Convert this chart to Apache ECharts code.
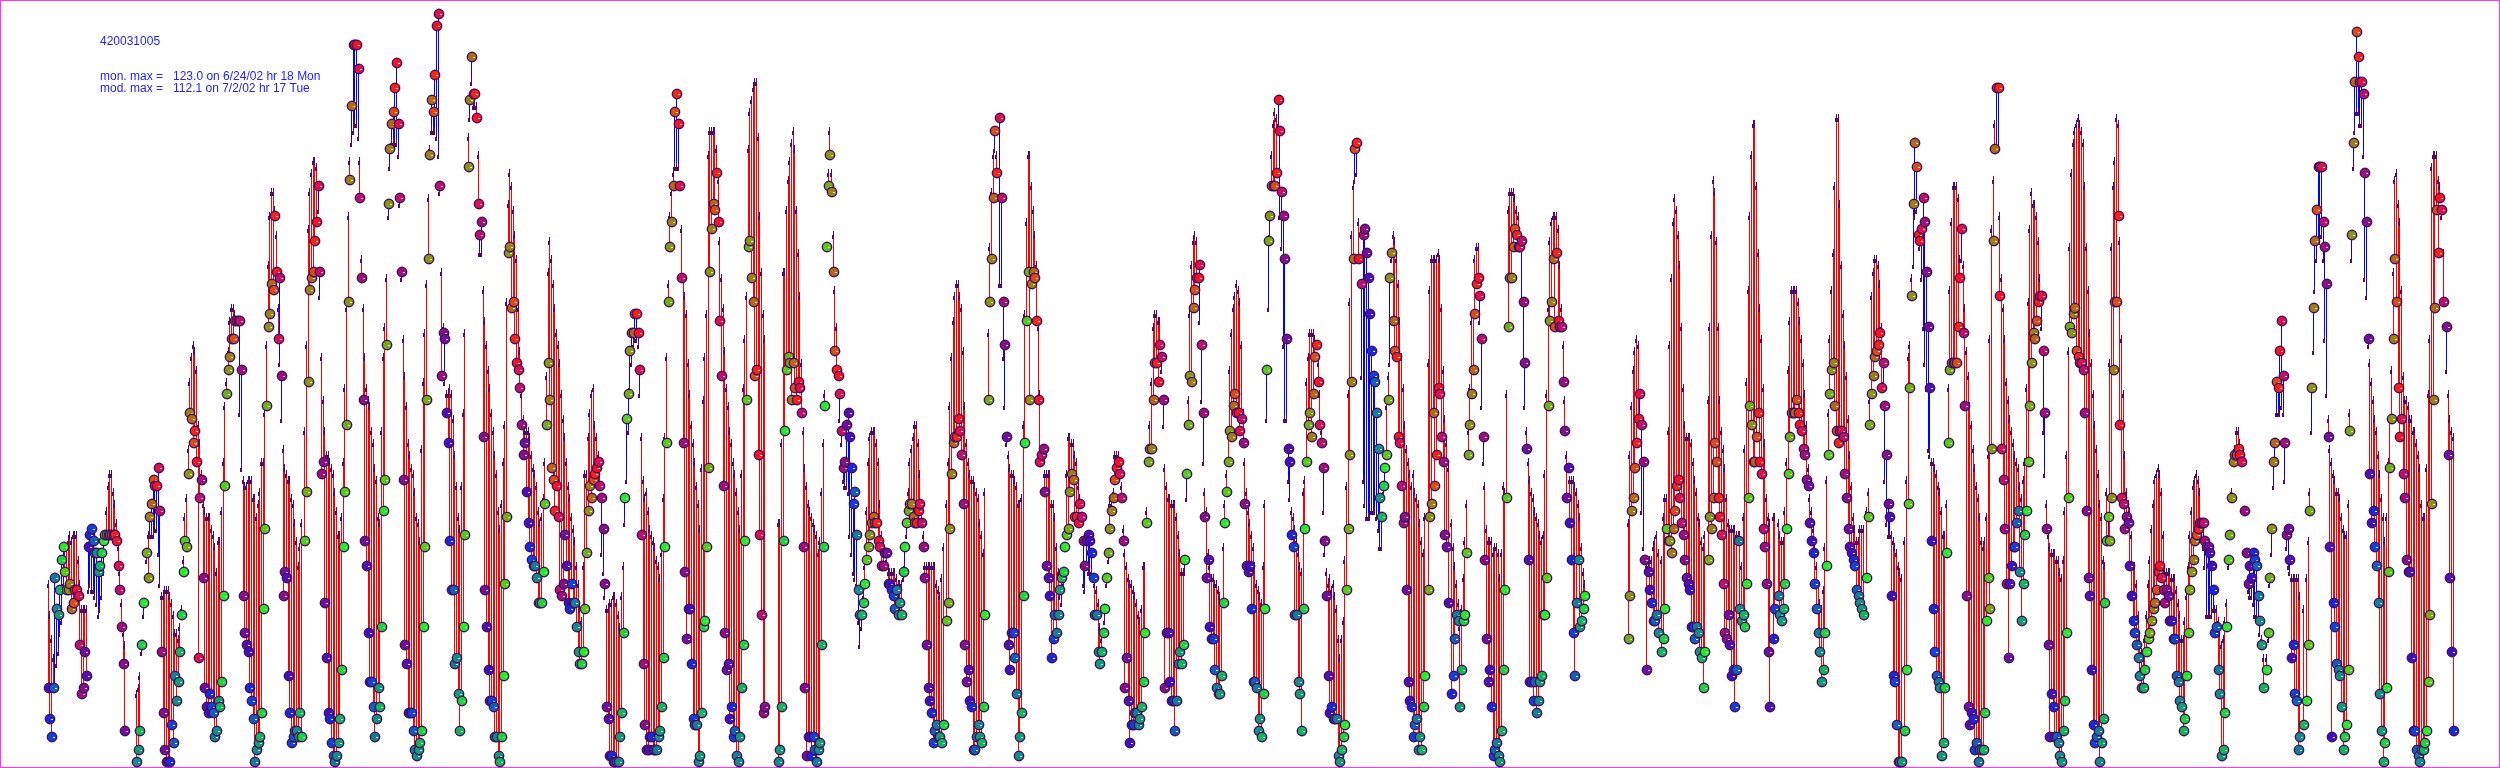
<!DOCTYPE html>
<html>
<head>
<meta charset="utf-8">
<title>420031005</title>
<script src="https://cdn.jsdelivr.net/npm/echarts@6/dist/echarts.min.js"></script>
<style>
html, body { margin: 0; padding: 0; background: #fff; }
#main { width: 2500px; height: 768px; }
</style>
</head>
<body>
<div id="main"></div>
<script>
var _ = null;

// station id and the two max lines
var titleLines = ['420031005', 'mon. max =   123.0 on 6/24/02 hr 18 Mon', 'mod. max =   112.1 on 7/2/02 hr 17 Tue'];

// one colour per hour of day for the monitor dots
var hourColors = ['#3c10c8', '#1828e0', '#1040e0', '#1060c0', '#108098', '#109088', '#10a070', '#10b858',
                  '#18d838', '#20f020', '#50d010', '#70b010', '#889810', '#a08010', '#b86810', '#e04c10',
                  '#ff2010', '#ff1020', '#e01048', '#c01068', '#a01078', '#881088', '#7010a0', '#5010b8'];

// monitor values, ppb, one row per day starting 6/15/02 hr 0
var monByDay = [
[13,8,5,13,31,26,25,29,34,36,32,29,29,30,26,27,29,29,28,20,12,13,19,15],
[36,38,39,37,35,35,32,33,35,37,38,38,38,38,38,38,38,37,33,29,23,17,6,_],
[_,_,_,_,_,1,3,6,20,27,_,35,31,41,43,47,46,46,49,42,19,9,3,1],
[1,1,7,4,15,11,14,19,25,32,37,36,48,58,57,53,55,50,18,44,47,31,13,10],
[9,12,10,9,5,6,11,10,14,28,46,61,65,67,70,70,73,73,73,73,65,28,22,20],
[19,13,11,8,1,3,4,5,9,26,39,59,72,74,79,78,90,81,70,80,64,28,32,31],
[15,9,4,5,6,6,5,9,5,_,37,45,63,78,80,81,86,89,95,81,48,50,27,18],
[9,8,4,2,1,2,4,8,16,36,45,56,76,96,108,118,118,118,114,93,80,60,37,33],
[22,14,14,10,5,8,13,10,23,42,47,69,92,101,105,107,111,115,105,93,81,47,20,17],
[9,9,9,6,3,2,3,4,6,23,36,60,83,100,109,107,113,121,123,95,64,71,70,58],
[53,37,29,29,17,18,12,6,11,23,38,_,98,109,116,110,110,106,92,87,89,54,29,23],
[16,11,11,10,5,5,2,1,5,15,30,41,84,85,75,76,70,66,65,62,56,51,53,45],
[40,36,34,33,33,31,27,27,27,32,43,56,66,60,49,47,42,46,41,29,28,30,38,33],
[27,26,30,27,27,23,19,17,17,19,26,35,42,46,44,47,48,49,50,46,44,39,30,10],
[8,2,2,1,1,1,1,5,9,22,44,57,61,68,71,71,74,74,71,65,38,17,7,3],
[3,5,5,3,3,3,5,6,10,18,36,53,76,85,89,95,107,110,105,95,80,53,32,21],
[26,26,17,8,7,7,1,2,9,23,24,36,49,81,88,92,91,97,89,73,64,46,22,16],
[17,8,10,5,6,2,1,5,13,20,37,60,85,86,80,76,64,65,51,38,25,9,10,_],
[_,_,_,_,_,_,1,3,10,37,55,65,67,66,60,66,62,60,63,62,58,36,13,2],
[5,5,2,5,3,1,3,4,20,36,59,85,95,100,94,81,68,65,64,61,55,49,50,56],
[58,54,49,43,45,38,29,25,25,27,30,34,36,38,40,41,40,40,37,36,33,33,35,35],
[30,30,29,28,26,29,25,27,25,32,36,40,42,43,43,41,40,40,42,43,40,36,31,20],
[13,11,9,4,6,7,5,5,4,7,_,24,27,39,48,53,54,54,57,55,51,43,20,14],
[16,11,10,3,3,5,7,5,4,10,25,_,60,76,83,93,104,97,_,106,93,76,69,54],
[20,16,22,22,18,12,2,5,9,28,53,73,81,60,79,81,80,73,60,50,51,52,45,33],
[31,28,18,21,25,22,25,29,31,32,36,38,39,45,48,47,41,41,40,43,41,37,33,37],
[38,37,35,31,25,25,19,17,19,22,26,31,35,39,42,44,47,49,50,48,44,37,13,18],
[11,4,7,7,9,9,7,8,10,14,22,40,50,52,52,60,66,66,63,69,67,60,13,22],
[22,14,11,11,6,11,17,19,17,20,34,48,56,64,63,75,78,80,80,82,69,58,41,31],
[34,23,21,21,16,13,12,12,15,27,40,45,50,55,54,59,61,58,58,55,57,53,43,33],
[32,33,26,14,14,13,6,8,5,12,26,65,86,90,95,95,95,97,109,104,94,90,83,70],
[52,50,38,36,25,25,14,12,6,26,39,50,56,58,54,61,67,69,63,56,53,49,37,28],
[15,9,10,8,8,8,2,1,3,5,7,29,39,51,63,83,101,102,83,_,79,87,88,84],
[80,74,68,64,63,58,52,44,41,46,49,51,60,80,84,73,68,67,54,53,46,40,41,29],
[14,11,10,5,7,8,3,5,3,10,15,_,29,41,43,58,46,51,62,61,54,50,38,36],
[27,_,12,15,21,25,24,10,16,24,25,35,51,56,61,65,74,79,80,77,70,54,34,21],
[14,16,10,2,3,4,2,1,6,16,29,44,72,80,80,85,88,87,85,85,86,76,66,52],
[34,14,14,11,14,9,11,14,15,25,25,31,59,73,76,83,72,84,73,72,72,63,55,44],
[49,40,34,22,15,27,34,23,24,26,28,_,_,_,_,_,_,_,_,_,_,_,_,_],
[_,_,_,_,_,_,_,_,_,_,_,_,21,28,42,44,49,53,57,61,56,50,34,16],
[32,29,27,24,24,25,22,_,19,21,26,39,37,37,35,39,42,46,47,44,40,38,34,31],
[30,29,23,23,21,23,22,19,18,13,19,_,34,41,39,44,53,50,44,41,38,30,22,21],
[25,20,15,16,10,16,37,26,24,25,23,30,44,59,56,50,50,54,58,50,48,39,36,30],
[19,10,_,21,26,_,28,25,24,26,30,39,48,54,58,58,58,60,58,56,55,52,51,47],
[46,40,37,35,30,26,22,19,14,16,22,33,51,61,65,66,59,55,53,55,55,54,48,44],
[39,36,35,34,33,29,28,27,26,25,_,31,41,56,61,64,67,68,69,71,62,66,59,51],
[43,41,28,15,14,7,1,1,1,_,6,16,43,62,77,92,102,98,87,86,88,93,89,81],
[72,62,37,26,19,15,14,13,2,4,13,35,53,65,66,66,66,66,72,80,88,71,59,28],
[10,7,9,8,3,4,1,3,3,3,9,24,31,26,52,86,101,111,111,77,52,47,39,30],
[18,30,33,36,36,40,42,32,24,30,38,42,50,59,66,71,70,73,76,77,77,68,58,39],
[20,5,12,10,5,5,4,2,1,6,11,22,44,72,71,74,75,68,67,66,66,65,58,42],
[31,28,16,7,4,5,6,1,4,8,27,37,41,37,44,65,76,76,90,56,44,43,39,41],
[40,33,28,24,22,20,18,15,13,13,16,19,21,22,24,26,27,29,32,33,31,29,27,29],
[28,24,24,21,21,15,14,11,10,6,8,15,22,29,32,34,37,38,39,40,40,40,37,36],
[36,35,33,29,22,23,16,12,2,3,9,23,34,38,44,50,51,51,52,51,50,_,42,35],
[30,33,31,35,34,33,28,24,20,13,_,16,22,31,39,50,53,63,62,68,73,64,53,38],
[39,34,18,20,12,11,3,5,_,7,_,11,20,42,62,75,86,91,98,98,98,89,85,79],
[54,36,5,27,23,17,16,15,10,3,5,7,16,55,87,102,112,120,116,112,112,110,97,89],
[70,48,40,42,36,33,27,12,6,1,4,13,32,49,57,70,83,76,62,54,57,48,44,34],
[32,32,18,6,6,3,2,1,3,3,4,6,14,25,43,60,75,91,84,93,91,76,_,72],
[51,31,19,6]
];

// model values, same layout
var modByDay = [
[30,25,21,18,13,17,19,22,24,30,35,36,37,38,37,38,38,38,34,30,26,26,26,26],
[29,30,29,29,28,27,25,26,28,32,38,42,46,48,48,45,43,40,36,32,27,22,20,_],
[_,_,_,_,_,12,13,15,19,25,_,34,38,38,38,38,39,39,35,30,28,28,29,29],
[29,28,27,25,22,22,21,23,26,34,41,44,52,63,67,69,68,65,56,53,48,43,42,41],
[41,41,39,38,36,32,37,37,42,50,59,63,68,73,75,75,74,73,73,58,49,47,46,46],
[47,47,47,44,44,41,43,45,50,50,58,69,82,90,94,94,91,87,75,66,57,52,49,48],
[47,47,44,43,40,37,33,36,40,_,55,69,88,94,97,99,99,98,91,77,67,60,55,51],
[51,50,49,48,45,42,38,38,41,50,62,75,90,99,102,104,105,105,103,99,83,75,67,62],
[60,59,55,53,49,47,41,40,55,67,72,80,90,98,102,102,102,102,100,92,80,70,64,59],
[53,51,49,48,45,41,40,37,52,63,71,79,93,101,104,104,104,103,100,94,81,72,63,61],
[61,62,61,57,51,46,41,39,46,58,71,_,103,106,112,108,108,108,100,84,84,78,73,69],
[65,62,58,55,51,48,42,39,43,50,56,76,92,97,95,91,87,83,75,68,61,57,55,55],
[55,54,51,49,48,46,42,40,41,44,50,64,81,86,83,79,75,71,69,66,61,57,54,50],
[46,44,41,39,37,33,30,26,24,33,48,48,54,58,61,62,56,54,51,48,35,32,28,26],
[26,27,27,28,28,27,25,23,28,33,40,47,55,62,66,69,70,70,69,61,54,47,44,45],
[42,39,38,37,36,34,33,31,35,44,54,67,79,90,94,97,98,98,98,95,88,80,77,74],
[66,61,56,53,50,46,43,39,49,60,67,74,100,104,104,104,104,101,96,86,80,75,68,62],
[59,55,53,50,48,45,42,39,48,62,70,77,101,107,109,111,112,112,103,90,81,74,70,_],
[_,_,_,_,_,_,40,40,53,81,81,91,96,99,102,104,101,91,84,77,66,55,49,46],
[43,42,41,40,39,38,35,37,45,53,61,85,97,104,97,87,78,72,65,57,53,47,46,46],
[45,38,35,32,31,30,24,20,23,28,33,42,50,54,55,55,55,53,50,43,38,36,35,34],
[32,32,32,32,32,31,30,30,30,31,33,38,45,50,52,54,56,56,53,48,42,38,33,33],
[33,33,33,33,33,30,29,28,31,36,_,43,50,59,67,73,77,79,79,77,75,68,59,53],
[50,48,47,47,46,45,44,40,38,35,45,_,71,85,94,100,101,100,_,79,79,67,59,53],
[51,49,48,48,47,46,43,43,44,56,74,89,100,100,95,91,87,82,72,61,52,52,48,48],
[48,48,43,43,41,36,32,28,27,30,36,48,54,54,53,53,51,50,46,44,40,30,29,33],
[32,32,32,31,30,29,27,23,21,22,24,30,34,43,43,45,51,51,51,50,46,39,35,33],
[31,30,30,29,28,27,25,24,26,33,33,42,50,56,63,72,74,74,73,73,65,56,49,46],
[44,44,43,43,43,41,38,35,32,32,32,44,60,74,82,86,87,86,80,73,60,50,45,42],
[35,33,31,31,30,30,29,28,27,36,43,48,55,65,71,75,77,79,78,76,69,58,50,45],
[42,40,38,36,33,30,29,28,27,33,43,57,75,87,100,105,107,106,105,90,85,69,57,57],
[47,44,42,41,39,37,35,33,32,45,47,63,67,71,71,71,70,69,66,61,55,42,35,32],
[30,31,29,30,28,26,21,18,21,24,34,46,61,76,87,95,96,97,89,_,64,47,43,41],
[41,41,42,42,42,41,39,36,36,45,46,59,64,66,83,87,86,83,79,73,67,62,56,52],
[50,48,46,48,45,44,43,40,37,35,41,_,66,78,83,83,83,83,84,83,75,65,57,53],
[49,_,40,36,33,30,27,23,26,31,37,43,55,62,73,74,83,85,85,73,59,50,46,39],
[37,37,37,35,36,36,35,31,35,46,45,61,91,94,94,94,93,91,90,85,76,66,59,55],
[50,47,45,44,42,41,40,38,37,38,48,61,75,86,89,90,90,90,88,82,75,69,60,51],
[49,47,47,47,46,45,43,41,36,32,30,_,_,_,_,_,_,_,_,_,_,_,_,_],
[_,_,_,_,_,_,_,_,_,_,_,_,40,51,59,65,68,70,69,57,42,36,34,33],
[33,34,34,36,37,38,35,_,34,41,44,44,55,69,80,89,93,91,87,82,72,62,56,54],
[54,54,53,50,47,45,41,40,37,36,38,_,60,72,87,96,94,86,72,60,55,52,49,44],
[40,39,39,39,39,38,38,38,33,41,52,63,78,90,100,105,105,95,84,75,70,62,53,44],
[41,40,_,41,41,_,40,38,37,37,42,50,65,73,78,78,78,78,76,73,70,66,61,56],
[49,44,42,39,36,33,30,27,26,29,36,47,58,70,78,84,95,106,106,92,82,74,69,64],
[57,51,46,41,39,37,37,39,39,39,_,42,45,60,77,81,83,83,82,79,72,63,47,40],
[38,38,38,37,36,35,33,32,31,_,37,47,67,69,80,82,90,91,88,85,80,72,66,62],
[52,51,50,50,49,48,46,45,42,38,38,43,62,78,89,95,95,95,93,83,83,82,75,68],
[64,59,56,52,49,46,44,41,37,36,37,41,51,70,88,96,105,101,101,90,80,75,70,63],
[60,57,55,53,51,50,49,46,44,47,50,62,76,88,94,92,92,90,86,80,72,55,48,43],
[38,36,35,35,35,34,34,32,31,34,42,51,68,85,97,102,104,105,106,105,104,102,95,85],
[78,71,66,61,56,52,48,43,41,34,33,45,38,66,85,95,99,106,105,86,70,61,51,45],
[43,42,38,33,33,30,25,21,19,18,21,25,30,34,39,43,47,48,49,48,45,38,32,32],
[32,32,31,31,31,29,27,25,21,21,24,28,33,38,42,46,47,48,47,45,40,36,33,25],
[25,25,25,26,26,26,24,22,20,21,24,27,33,38,45,50,52,55,55,53,52,_,42,35],
[29,28,28,27,25,25,24,22,21,18,_,18,21,30,35,46,50,58,58,58,59,58,47,36],
[33,32,31,31,31,31,31,28,_,26,_,31,37,45,55,68,78,83,86,86,87,83,70,61],
[57,52,50,48,47,45,45,44,41,39,38,38,43,58,83,98,104,107,107,105,105,100,80,77],
[69,66,63,60,57,55,51,48,44,41,37,41,50,57,65,81,96,97,92,89,78,64,60,60],
[59,57,57,55,55,53,51,49,43,41,41,49,61,70,98,100,100,100,96,95,90,84,_,65],
[61,57,55,54]
];

// 组装数据: [plot column, monitor, model, hour of day]
var points = [];
for (var d = 0; d < monByDay.length; d++) {
  for (var i = 0; i < monByDay[d].length; i++) {
    if (monByDay[d][i] == null || modByDay[d][i] == null) continue;
    var col = d * 24 + i;
    // the plot columns run a little slower than real hours
    points.push([col, monByDay[d][i], modByDay[d][i], Math.round(col * 0.9985) % 24]);
  }
}

function renderLine(params, api) {
  var mon = api.coord([api.value(0), api.value(1)]);
  var mod = api.coord([api.value(0), api.value(2)]);
  var x = Math.round(mon[0]) + 0.5;
  return {
    type: 'line',
    shape: { x1: x, y1: Math.round(mon[1]), x2: x, y2: Math.round(mod[1]) },
    style: { stroke: api.value(2) >= api.value(1) ? '#ff0000' : '#0000ff', lineWidth: 1 }
  };
}

function renderTick(params, api) {
  var mod = api.coord([api.value(0), api.value(2)]);
  var x = Math.round(mod[0]);
  var y = Math.round(mod[1]);
  return {
    type: 'group',
    children: [
      { type: 'rect', shape: { x: x, y: y - 4, width: 1, height: 8 }, style: { fill: '#500a6a' } },
      { type: 'rect', shape: { x: x - 1, y: y, width: 1, height: 4 }, style: { fill: '#500a6a' } }
    ]
  };
}

function renderDot(params, api) {
  var mon = api.coord([api.value(0), api.value(1)]);
  var x = Math.round(mon[0]) + 1;
  var y = Math.round(mon[1]);
  return {
    type: 'group',
    children: [
      { type: 'circle', shape: { cx: x, cy: y, r: 4.7 },
        style: { fill: hourColors[api.value(3)], stroke: '#401060', lineWidth: 1.4 } },
      { type: 'rect', shape: { x: x + 1, y: y, width: 2, height: 1 }, style: { fill: '#ffffff' } }
    ]
  };
}

var myChart = echarts.init(document.getElementById('main'));

option = {
  animation: false,
  backgroundColor: '#ffffff',
  grid: { left: 0, right: 0, top: 0, bottom: 0, show: true, borderColor: '#ff33ff', borderWidth: 2 },
  xAxis: { type: 'value', min: -28.6, max: 1471.4, show: false },
  yAxis: { type: 'value', min: 0, max: 125.3, show: false },
  tooltip: { show: false },
  graphic: [
    { type: 'text', left: 100, top: 36, style: { text: titleLines[0], fill: '#2222ff', font: '12px "Liberation Sans"' } },
    { type: 'text', left: 100, top: 71, style: { text: titleLines[1], fill: '#2222ff', font: '12px "Liberation Sans"' } },
    { type: 'text', left: 100, top: 83, style: { text: titleLines[2], fill: '#2222ff', font: '12px "Liberation Sans"' } }
  ],
  series: [
    { type: 'custom', name: 'diff', z: 2, clip: true, renderItem: renderLine, data: points, silent: true },
    { type: 'custom', name: 'model', z: 3, clip: true, renderItem: renderTick, data: points, silent: true },
    { type: 'custom', name: 'monitor', z: 4, clip: true, renderItem: renderDot, data: points, silent: true }
  ]
};

myChart.setOption(option);
</script>
</body>
</html>
